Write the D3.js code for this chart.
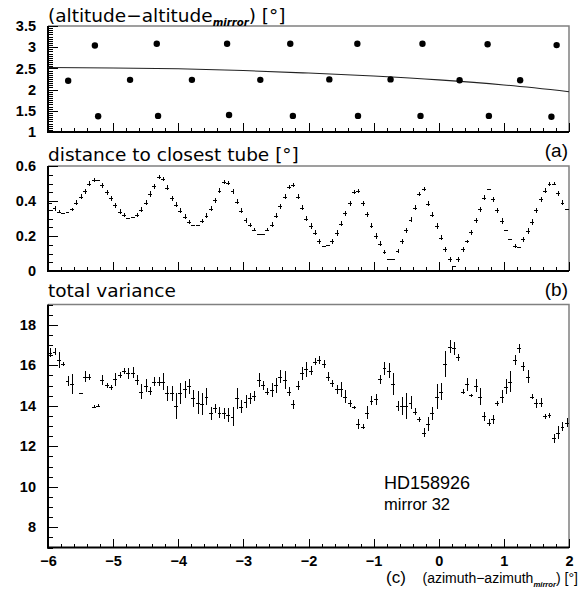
<!DOCTYPE html>
<html>
<head>
<meta charset="utf-8">
<script src="https://cdn.jsdelivr.net/npm/d3@7"></script>
<style>
  body { margin: 0; background: #fff; }
  svg { display: block; }
</style>
</head>
<body>
<svg id="chart" width="582" height="593"></svg>
<script>
// ---- shared x axis: azimuth offset, 120 bins from -6 to 2 degrees ----
const xMin = -6, xMax = 2, nBins = 120;
const xTicks = [-6, -5, -4, -3, -2, -1, 0, 1, 2];
const xTickLabels = ["\u22126", "\u22125", "\u22124", "\u22123", "\u22122", "\u22121", "0", "1", "2"];

// ---- panel (a): altitude offset of the measured positions ----
const altX = [-5.28, -4.33, -3.25, -2.28, -1.25, -0.25, 0.75, 1.81,
              -5.69, -4.74, -3.79, -2.74, -1.68, -0.74, 0.32, 1.25,
              -5.23, -4.31, -3.22, -2.24, -1.24, -0.28, 0.77, 1.73];
const altY = [3.04, 3.08, 3.08, 3.08, 3.08, 3.08, 3.07, 3.05,
              2.21, 2.23, 2.23, 2.23, 2.24, 2.24, 2.22, 2.22,
              1.37, 1.38, 1.40, 1.38, 1.38, 1.38, 1.38, 1.36];
// fitted trend through the altitude offsets
const fitX = [-6, -5, -4, -3, -2, -1, 0, 1, 2];
const fitY = [2.52, 2.51, 2.49, 2.45, 2.39, 2.32, 2.23, 2.11, 1.95];
const altTicks = [1, 1.5, 2, 2.5, 3, 3.5];
const altTickLabels = ["1", "1.5", "2", "2.5", "3", "3.5"];

// ---- panel (b): distance to the closest tube per bin ----
const distVals = [
  0.390, 0.358, 0.339, 0.333, 0.335, 0.354, 0.390, 0.425, 0.455, 0.500,
  0.520, 0.522, 0.490, 0.450, 0.415, 0.375, 0.340, 0.320, 0.305, 0.307,
  0.320, 0.350, 0.390, 0.440, 0.485, 0.535, 0.525, 0.475, 0.415, 0.380,
  0.345, 0.310, 0.280, 0.265, 0.265, 0.285, 0.315, 0.355, 0.405, 0.460,
  0.510, 0.505, 0.455, 0.395, 0.345, 0.290, 0.265, 0.235, 0.213, 0.213,
  0.235, 0.265, 0.315, 0.370, 0.425, 0.480, 0.490, 0.425, 0.362, 0.300,
  0.257, 0.220, 0.170, 0.143, 0.147, 0.170, 0.217, 0.270, 0.330, 0.387,
  0.453, 0.455, 0.387, 0.324, 0.260, 0.200, 0.156, 0.110, 0.067, 0.067,
  0.115, 0.170, 0.232, 0.293, 0.362, 0.440, 0.468, 0.385, 0.322, 0.257,
  0.190, 0.124, 0.067, 0.029, 0.067, 0.124, 0.171, 0.222, 0.289, 0.352,
  0.419, 0.470, 0.410, 0.347, 0.286, 0.232, 0.181, 0.143, 0.137, 0.181,
  0.229, 0.280, 0.347, 0.410, 0.460, 0.497, 0.500, 0.444, 0.390, 0.354
];
const distErr = [
  0.000, 0.011, 0.006, 0.000, 0.000, 0.006, 0.012, 0.012, 0.012, 0.012,
  0.008, 0.000, 0.012, 0.012, 0.012, 0.012, 0.012, 0.006, 0.000, 0.000,
  0.006, 0.012, 0.012, 0.012, 0.012, 0.008, 0.008, 0.012, 0.012, 0.012,
  0.012, 0.012, 0.008, 0.000, 0.000, 0.008, 0.012, 0.012, 0.012, 0.012,
  0.008, 0.008, 0.012, 0.012, 0.012, 0.012, 0.008, 0.006, 0.000, 0.000,
  0.006, 0.012, 0.012, 0.012, 0.012, 0.008, 0.008, 0.012, 0.012, 0.012,
  0.012, 0.012, 0.010, 0.000, 0.000, 0.010, 0.012, 0.012, 0.012, 0.012,
  0.008, 0.008, 0.012, 0.012, 0.012, 0.012, 0.012, 0.010, 0.000, 0.000,
  0.010, 0.012, 0.012, 0.012, 0.012, 0.010, 0.008, 0.012, 0.012, 0.012,
  0.012, 0.012, 0.010, 0.000, 0.010, 0.012, 0.006, 0.012, 0.012, 0.012,
  0.012, 0.000, 0.012, 0.012, 0.012, 0.000, 0.000, 0.006, 0.000, 0.012,
  0.012, 0.012, 0.012, 0.012, 0.012, 0.008, 0.008, 0.012, 0.012, 0.000
];
const distTicks = [0, 0.2, 0.4, 0.6];
const distTickLabels = ["0", "0.2", "0.4", "0.6"];

// ---- panel (c): total variance per bin (null = empty bin) ----
const varVals = [
  16.62, 16.66, 16.26, 16.05, 15.22, 15.07, null, 14.61, 15.44, 15.44,
  13.95, 13.99, 15.27, 15.01, 14.91, 15.30, 15.52, 15.73, 15.60, 15.63,
  15.27, 14.70, 14.98, 14.73, 15.19, 15.19, 15.19, 14.61, 14.61, 13.99,
  14.61, 14.81, 14.97, 14.37, 14.15, 14.09, 14.45, 13.63, 13.87, 13.66,
  13.63, 13.54, 13.46, 14.37, 13.95, 14.20, 14.37, 14.48, 15.27, 15.02,
  14.70, 14.78, 15.02, 15.43, 15.27, 14.70, 14.08, 14.98, 15.60, 15.80,
  15.73, 16.18, 16.26, 16.06, 15.43, 15.11, 14.81, 14.81, 14.45, 14.12,
  13.92, 13.10, 12.97, 13.66, 14.25, 14.32, 15.30, 15.85, 15.73, 15.07,
  13.99, 13.99, 13.99, 14.15, 13.71, 13.33, 12.67, 13.10, 13.63, 14.45,
  14.70, 16.06, 16.92, 16.84, 16.39, 14.70, 15.07, 14.53, 14.98, 14.45,
  13.49, 13.17, 13.33, 14.12, 14.45, 14.94, 15.19, 16.26, 16.84, 15.96,
  15.43, 14.45, 14.12, 14.15, 13.49, 13.54, 12.39, 12.67, 12.97, 13.17
];
const varErr = [
  0.20, 0.15, 0.39, 0.08, 0.20, 0.45, 0.00, 0.00, 0.25, 0.12,
  0.05, 0.05, 0.20, 0.10, 0.10, 0.30, 0.12, 0.12, 0.25, 0.25,
  0.20, 0.35, 0.30, 0.15, 0.20, 0.20, 0.40, 0.35, 0.35, 0.60,
  0.50, 0.40, 0.35, 0.40, 0.55, 0.50, 0.40, 0.30, 0.20, 0.25,
  0.25, 0.30, 0.45, 0.50, 0.30, 0.30, 0.25, 0.20, 0.30, 0.20,
  0.15, 0.30, 0.35, 0.30, 0.40, 0.20, 0.20, 0.20, 0.30, 0.35,
  0.20, 0.15, 0.15, 0.15, 0.20, 0.15, 0.20, 0.35, 0.30, 0.15,
  0.05, 0.20, 0.10, 0.30, 0.20, 0.25, 0.20, 0.30, 0.35, 0.50,
  0.20, 0.40, 0.60, 0.30, 0.15, 0.10, 0.20, 0.30, 0.30, 0.60,
  0.40, 0.60, 0.30, 0.30, 0.15, 0.10, 0.30, 0.05, 0.30, 0.40,
  0.20, 0.15, 0.20, 0.10, 0.30, 0.35, 0.50, 0.20, 0.20, 0.20,
  0.30, 0.10, 0.20, 0.20, 0.10, 0.10, 0.20, 0.30, 0.20, 0.20
];
const varTicks = [8, 10, 12, 14, 16, 18];
const varTickLabels = ["8", "10", "12", "14", "16", "18"];

// ---- layout ----
const svg = d3.select("#chart");
const left = 48, right = 569;
const x = d3.scaleLinear().domain([xMin, xMax]).range([left, right]);
const binW = (xMax - xMin) / nBins;
const binCenter = i => xMin + (i + 0.5) * binW;

const titleFont = "'DejaVu Sans', sans-serif";
const labelFont = "'Liberation Sans', Arial, sans-serif";

const yA = d3.scaleLinear().domain([1, 3.5]).range([132, 26]);
const yB = d3.scaleLinear().domain([0, 0.6]).range([271, 166]);
const yC = d3.scaleLinear().domain([7, 19]).range([547.5, 304.5]);

function frame(y, minorStep, majors, majorLabels, showXLabels) {
  const [y0, y1] = y.range();
  const g = svg.append("g");
  // top and right border
  g.append("path")
    .attr("d", `M${left},${y1}H${right}V${y0}`)
    .attr("fill", "none").attr("stroke", "#808080").attr("stroke-width", 1.5);

  // minor y ticks
  const [d0, d1] = y.domain();
  const minors = d3.range(d0, d1 + minorStep / 2, minorStep)
    .filter(v => !majors.some(m => Math.abs(m - v) < minorStep / 10));
  const minorAxis = d3.axisLeft(y).tickValues(minors).tickSize(-5).tickFormat("");
  g.append("g").attr("transform", `translate(${left},0)`).call(minorAxis)
    .call(a => a.select(".domain").remove());

  // major y ticks with labels
  const majorAxis = d3.axisLeft(y).tickValues(majors).tickSize(-10).tickPadding(12)
    .tickFormat((d, i) => majorLabels[i]);
  const ya = g.append("g").attr("transform", `translate(${left},0)`).call(majorAxis);
  ya.select(".domain").attr("stroke", "#000").attr("stroke-width", 2).attr("d", `M0,${y0 + 1}V${y1}`);
  ya.selectAll("text").attr("font-family", labelFont).attr("font-size", 14.5)
    .attr("font-weight", "bold").attr("fill", "#000");
  ya.selectAll("line").attr("stroke", "#000");

  // x minor ticks
  const xMinors = d3.range(xMin, xMax + 0.01, 0.2)
    .filter(v => !xTicks.some(m => Math.abs(m - v) < 0.01));
  const xMinorAxis = d3.axisBottom(x).tickValues(xMinors).tickSize(-4).tickFormat("");
  g.append("g").attr("transform", `translate(0,${y0})`).call(xMinorAxis)
    .call(a => a.select(".domain").remove());

  const xAxis = d3.axisBottom(x).tickValues(xTicks).tickSize(-9).tickPadding(8)
    .tickFormat((d, i) => showXLabels ? xTickLabels[i] : "");
  const xa = g.append("g").attr("transform", `translate(0,${y0})`).call(xAxis);
  xa.select(".domain").attr("stroke", "#000").attr("stroke-width", 2).attr("d", `M${left - 1},0H${right}`);
  xa.selectAll("text").attr("font-family", labelFont).attr("font-size", 14.5)
    .attr("font-weight", "bold").attr("fill", "#000");
  g.selectAll("line").attr("shape-rendering", "crispEdges");
}

function title(txt, sub, tail, xPos, yPos, size, anchor, family) {
  const t = svg.append("text").attr("x", xPos).attr("y", yPos)
    .attr("font-family", family || titleFont).attr("font-size", size).attr("fill", "#000")
    .attr("text-anchor", anchor || "start");
  t.append("tspan").text(txt);
  if (sub) {
    t.append("tspan").attr("dy", size * 0.25).attr("font-size", size * 0.55)
      .attr("font-style", "italic").attr("font-weight", "bold").text(sub);
    t.append("tspan").attr("dy", -size * 0.25).text(tail);
  }
  return t;
}

// ---- panel (a) ----
frame(yA, 0.05, altTicks, altTickLabels, false);
svg.append("path")
  .datum(fitX.map((v, i) => [v, fitY[i]]))
  .attr("d", d3.line().x(d => x(d[0])).y(d => yA(d[1])).curve(d3.curveMonotoneX))
  .attr("fill", "none").attr("stroke", "#222").attr("stroke-width", 1.1);
svg.append("g").selectAll("circle")
  .data(altX.map((v, i) => [v, altY[i]]))
  .join("circle")
  .attr("cx", d => x(d[0])).attr("cy", d => yA(d[1])).attr("r", 3.2)
  .attr("fill", "#000");
title("(altitude\u2212altitude", "mirror", ") [\u00b0]", 48, 21.5, 18.5);

// error-bar crosses for a binned series
function crosses(y, vals, errs) {
  const half = binW * 0.45;
  const g = svg.append("g").attr("stroke", "#000").attr("stroke-width", 1)
    .attr("shape-rendering", "crispEdges");
  const data = vals.map((v, i) => ({ c: binCenter(i), v, e: errs[i] }))
    .filter(d => d.v !== null);
  g.selectAll("line.h").data(data).join("line").attr("class", "h")
    .attr("x1", d => x(d.c - half)).attr("x2", d => x(d.c + half))
    .attr("y1", d => Math.round(y(d.v)) + 0.5).attr("y2", d => Math.round(y(d.v)) + 0.5);
  g.selectAll("line.v").data(data.filter(d => d.e > 0)).join("line").attr("class", "v")
    .attr("x1", d => Math.round(x(d.c)) + 0.5).attr("x2", d => Math.round(x(d.c)) + 0.5)
    .attr("y1", d => y(d.v - d.e) + 0.5).attr("y2", d => y(d.v + d.e) - 0.5);
}

// ---- panel (b) ----
frame(yB, 0.05, distTicks, distTickLabels, false);
crosses(yB, distVals, distErr);
title("distance to closest tube [\u00b0]", null, null, 48, 161, 18.5);
svg.append("text").attr("x", 568).attr("y", 157).attr("text-anchor", "end")
  .attr("font-family", labelFont).attr("font-size", 19).text("(a)");

// ---- panel (c) ----
frame(yC, 0.5, varTicks, varTickLabels, true);
crosses(yC, varVals, varErr);
title("total variance", null, null, 48, 297, 18.5);
svg.append("text").attr("x", 568).attr("y", 296).attr("text-anchor", "end")
  .attr("font-family", labelFont).attr("font-size", 19).text("(b)");

svg.append("text").attr("x", 384).attr("y", 489)
  .attr("font-family", labelFont).attr("font-size", 18).text("HD158926");
svg.append("text").attr("x", 384).attr("y", 510)
  .attr("font-family", labelFont).attr("font-size", 16.5).text("mirror 32");

svg.append("text").attr("x", 386).attr("y", 583)
  .attr("font-family", labelFont).attr("font-size", 17).text("(c)");
title("(azimuth\u2212azimuth", "mirror", ") [\u00b0]", 578, 583, 14, "end", labelFont);
</script>
</body>
</html>
